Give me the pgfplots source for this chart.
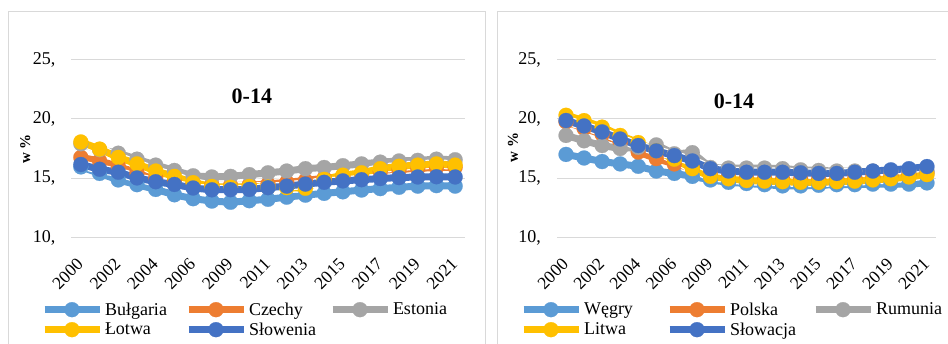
\documentclass[border=0pt]{standalone}
\usepackage{fontspec}
\setmainfont{Liberation Serif}
\usepackage{pgfplots}
\pgfplotsset{compat=1.18}
\usepackage{pgfplotstable}

\definecolor{sA}{HTML}{5B9BD5}
\definecolor{sB}{HTML}{ED7D31}
\definecolor{sC}{HTML}{A5A5A5}
\definecolor{sD}{HTML}{FFC000}
\definecolor{sE}{HTML}{4472C4}
\definecolor{gridgray}{HTML}{D9D9D9}
\definecolor{framegray}{HTML}{D9D9D9}

% share of population aged 0-14 (%), years 2000-2007 and 2009-2021
\pgfplotstableread{
i  bg    cz    ee    lv    si
0  15.95 16.75 17.90 18.05 16.15
1  15.40 16.45 17.40 17.45 15.75
2  14.85 16.00 17.10 16.75 15.50
3  14.45 15.45 16.60 16.20 15.02
4  14.05 15.00 16.10 15.60 14.70
5  13.60 14.80 15.65 15.15 14.47
6  13.27 14.60 15.20 14.62 14.17
7  13.07 14.42 15.10 14.30 14.02
8  12.97 14.37 15.15 14.23 14.03
9  13.10 14.42 15.30 14.30 14.05
10 13.22 14.50 15.45 14.25 14.20
11 13.40 14.65 15.60 14.20 14.33
12 13.57 14.80 15.80 14.15 14.50
13 13.72 15.00 15.90 14.90 14.65
14 13.85 15.15 16.05 15.25 14.77
15 14.00 15.35 16.20 15.45 14.87
16 14.12 15.55 16.35 15.80 14.97
17 14.23 15.70 16.45 16.00 15.05
18 14.33 15.82 16.50 16.10 15.10
19 14.37 15.90 16.60 16.20 15.12
20 14.33 15.92 16.55 16.10 15.10
}\leftdata

\pgfplotstableread{
i  hu    pl    ro    lt    sk
0  17.00 19.75 18.60 20.30 19.86
1  16.70 19.20 18.15 19.85 19.40
2  16.40 18.70 17.75 19.30 18.90
3  16.20 18.00 17.50 18.60 18.30
4  16.00 17.20 17.60 18.00 17.75
5  15.60 16.65 17.80 17.30 17.30
6  15.40 16.20 17.05 16.60 16.90
7  15.15 15.85 17.15 15.80 16.45
8  14.85 15.30 15.90 15.15 15.80
9  14.65 15.15 15.85 14.95 15.60
10 14.55 15.05 15.85 14.80 15.50
11 14.45 15.00 15.85 14.75 15.50
12 14.35 14.95 15.80 14.70 15.50
13 14.35 14.95 15.70 14.65 15.45
14 14.40 14.95 15.65 14.65 15.40
15 14.45 15.00 15.60 14.70 15.40
16 14.45 15.05 15.60 14.75 15.50
17 14.50 15.15 15.60 14.85 15.60
18 14.50 15.25 15.60 14.95 15.70
19 14.50 15.35 15.60 15.10 15.80
20 14.60 15.45 15.60 15.30 15.98
}\rightdata

\pgfplotsset{
  panel/.style={
    scale only axis,
    height=178pt,
    xmin=-0.5, xmax=20.5, ymin=10, ymax=25,
    ytick={10,15,20,25},
    yticklabel={\pgfmathprintnumber{\tick},},
    xtick={0,2,...,20},
    xticklabels={2000,2002,2004,2006,2009,2011,2013,2015,2017,2019,2021},
    ymajorgrids,
    grid style={draw=gridgray, line width=1pt},
    axis line style={draw=none},
    major tick length=0pt,
    /pgf/number format/assume math mode=true,
    xticklabel style={font=\fontsize{17.5}{20}\selectfont,
      xshift=-5pt, yshift=-19.5pt, rotate=45, anchor=north east, inner sep=0pt},
    yticklabel style={font=\fontsize{18}{20}\selectfont,
      anchor=east, inner sep=0pt, xshift=-16pt},
    title={\textbf{0-14}},
    title style={font=\fontsize{22}{24}\selectfont, anchor=center},
    ylabel={\textbf{w \%}},
    ylabel style={font=\fontsize{15}{17}\selectfont, anchor=center},
    legend columns=3,
    legend cell align=left,
    legend style={draw=none, fill=none, inner sep=0pt, outer sep=0pt,
      anchor=north west, font=\fontsize{18}{20}\selectfont,
      row sep=2pt, nodes={inner sep=2pt}},
    legend image code/.code={%
      \path[draw=none, fill=none] (0pt,-7.5pt) rectangle (55pt,7.5pt);
      \draw[mark repeat=2, mark phase=2, #1]
        plot coordinates {(0pt,0pt) (27.5pt,0pt) (55pt,0pt)};},
  },
  % white edge under each series line
  halo/.style={white, line width=9.5pt, line join=round, no marks, forget plot},
  ser/.style={color=#1, line width=7pt, line join=round, mark=*, mark size=7.5pt,
    mark options={fill=#1, draw=#1, line width=0.2pt}},
}

\begin{document}
\begin{tikzpicture}[x=1pt, y=1pt]
\useasboundingbox (0,0) rectangle (948,344);
\draw[framegray, line width=1pt] (8,332) rectangle (485,-20);
\draw[framegray, line width=1pt] (497,332) rectangle (960,-20);

\begin{axis}[panel, width=393pt,
  at={(71.5pt,106.5pt)}, anchor=south west,
  title style={at={(axis description cs:0.459,0.757)}},
  ylabel style={at={(axis description cs:-0.118,0.497)}},
  legend style={at={(axis description cs:-0.0776,-0.355)}},
]
\addplot[halo] table[x=i, y=bg] {\leftdata};
\addplot[ser=sA] table[x=i, y=bg] {\leftdata};
\addlegendentry{\makebox[78pt][l]{Bułgaria}}
\addplot[halo] table[x=i, y=cz] {\leftdata};
\addplot[ser=sB] table[x=i, y=cz] {\leftdata};
\addlegendentry{\makebox[78pt][l]{Czechy}}
\addplot[halo] table[x=i, y=ee] {\leftdata};
\addplot[ser=sC] table[x=i, y=ee] {\leftdata};
\addlegendentry{Estonia}
\addplot[halo] table[x=i, y=lv] {\leftdata};
\addplot[ser=sD] table[x=i, y=lv] {\leftdata};
\addlegendentry{\makebox[78pt][l]{Łotwa}}
\addplot[halo] table[x=i, y=si] {\leftdata};
\addplot[ser=sE] table[x=i, y=si] {\leftdata};
\addlegendentry{\makebox[78pt][l]{Słowenia}}
\end{axis}

\begin{axis}[panel, width=379pt,
  at={(557pt,106.5pt)}, anchor=south west,
  title style={at={(axis description cs:0.467,0.733)}},
  ylabel style={at={(axis description cs:-0.116,0.506)}},
  legend style={at={(axis description cs:-0.0976,-0.355)}},
]
\addplot[halo] table[x=i, y=hu] {\rightdata};
\addplot[ser=sA] table[x=i, y=hu] {\rightdata};
\addlegendentry{\makebox[80pt][l]{Węgry}}
\addplot[halo] table[x=i, y=pl] {\rightdata};
\addplot[ser=sB] table[x=i, y=pl] {\rightdata};
\addlegendentry{\makebox[80pt][l]{Polska}}
\addplot[halo] table[x=i, y=ro] {\rightdata};
\addplot[ser=sC] table[x=i, y=ro] {\rightdata};
\addlegendentry{Rumunia}
\addplot[halo] table[x=i, y=lt] {\rightdata};
\addplot[ser=sD] table[x=i, y=lt] {\rightdata};
\addlegendentry{\makebox[80pt][l]{Litwa}}
\addplot[halo] table[x=i, y=sk] {\rightdata};
\addplot[ser=sE] table[x=i, y=sk] {\rightdata};
\addlegendentry{\makebox[80pt][l]{Słowacja}}
\end{axis}
\end{tikzpicture}
\end{document}
